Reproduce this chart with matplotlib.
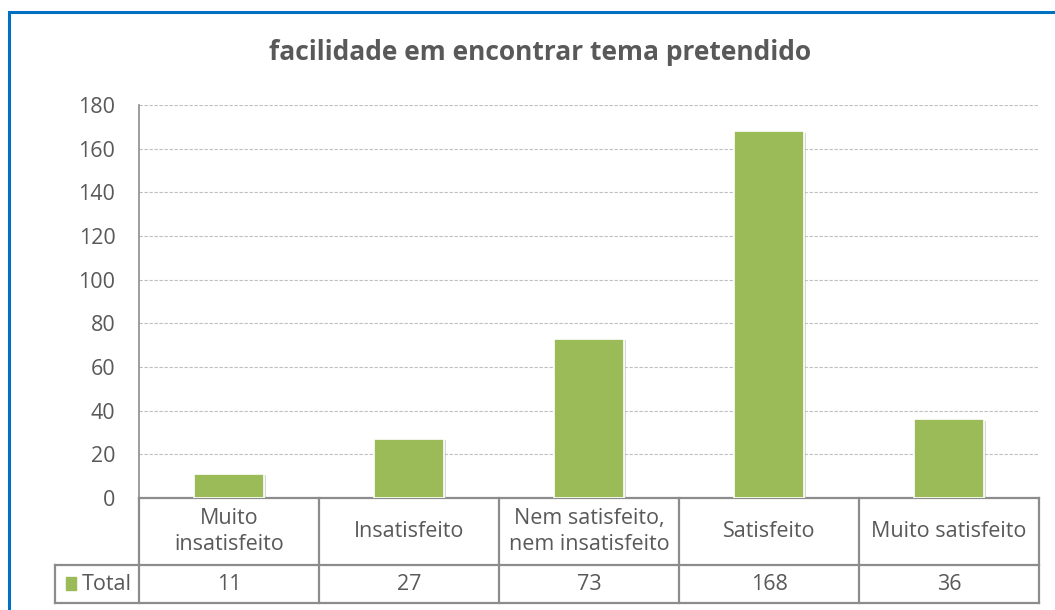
# Recreating the "facilidade em encontrar tema pretendido" chart (bars + data table)

import matplotlib
matplotlib.use("Agg")
import matplotlib.pyplot as plt
import matplotlib.patheffects as pe
from matplotlib.patches import Rectangle

# Data
categories = ["Muito\ninsatisfeito", "Insatisfeito", "Nem satisfeito,\nnem insatisfeito",
              "Satisfeito", "Muito satisfeito"]
totals = [11, 27, 73, 168, 36]
series_name = "Total"
yticks = [0, 20, 40, 60, 80, 100, 120, 140, 160, 180]

bar_color = "#9BBB59"
text_color = "#595959"
line_color = "#8C8C8C"
fs = 15.5

plt.rcParams["font.family"] = ["Open Sans", "DejaVu Sans"]

fig = plt.figure(figsize=(10.55, 6.1), dpi=100)
ax = fig.add_axes([139 / 1055, 112 / 610, 900 / 1055, 393 / 610])

# Blue frame around the chart
fig.patches.append(Rectangle((9 / 1055, -0.1), 1.2, 598 / 610 + 0.1,
                             transform=fig.transFigure, fill=False,
                             edgecolor="#0070C0", linewidth=2.2))

# Bars
x = list(range(len(categories)))
bars = ax.bar(x, totals, width=0.39, color=bar_color, edgecolor="white", linewidth=1.2, zorder=3)
for b in bars:
    b.set_path_effects([pe.SimplePatchShadow(offset=(1.5, -1), shadow_rgbFace="#bbbbbb", alpha=0.6),
                        pe.Normal()])

ax.set_xlim(-0.5, len(categories) - 0.5)
ax.set_ylim(0, 180)
ax.set_yticks(yticks)
ax.set_xticks([])
ax.tick_params(axis="y", length=0, pad=17, labelsize=fs, labelcolor=text_color)
ax.grid(axis="y", color="#BFBFBF", linestyle=(0, (3, 1.5)), linewidth=0.8, zorder=0)
for s in ["top", "right", "bottom"]:
    ax.spines[s].set_visible(False)
ax.spines["left"].set_color(line_color)
ax.spines["left"].set_linewidth(1.2)

# Title
fig.text(540 / 1055, 1 - 52 / 610, "facilidade em encontrar tema pretendido",
         ha="center", va="center", fontsize=19, fontweight="bold", color=text_color)

# Data table below the axes
tr = ax.get_xaxis_transform()
row1 = 67 / 393
row2 = 38 / 393
left_cell = -0.5 - 84 / 180
lw = 1.6
kw = dict(transform=tr, color=line_color, linewidth=lw, clip_on=False, solid_capstyle="projecting")

# horizontal lines
ax.plot([-0.5, 4.5], [0, 0], **kw)
ax.plot([left_cell, 4.5], [-row1, -row1], **kw)
ax.plot([left_cell, 4.5], [-row1 - row2, -row1 - row2], **kw)
# vertical lines
for i in range(len(categories) + 1):
    ax.plot([i - 0.5, i - 0.5], [0, -row1 - row2], **kw)
ax.plot([left_cell, left_cell], [-row1, -row1 - row2], **kw)

for i, (c, v) in enumerate(zip(categories, totals)):
    ax.text(i, -row1 / 2, c, transform=tr, ha="center", va="center",
            fontsize=fs, color=text_color, linespacing=1.32)
    ax.text(i, -row1 - row2 / 2, str(v), transform=tr, ha="center", va="center",
            fontsize=fs, color=text_color)

# legend key in table
ax.add_patch(Rectangle((left_cell + 0.062, -row1 - row2 / 2 - 0.016), 0.055, 0.034,
                       transform=tr, color=bar_color, clip_on=False))
ax.text(left_cell + 0.15, -row1 - row2 / 2, series_name, transform=tr, ha="left", va="center",
        fontsize=fs, color=text_color)

fig.savefig("out.png", dpi=100)
